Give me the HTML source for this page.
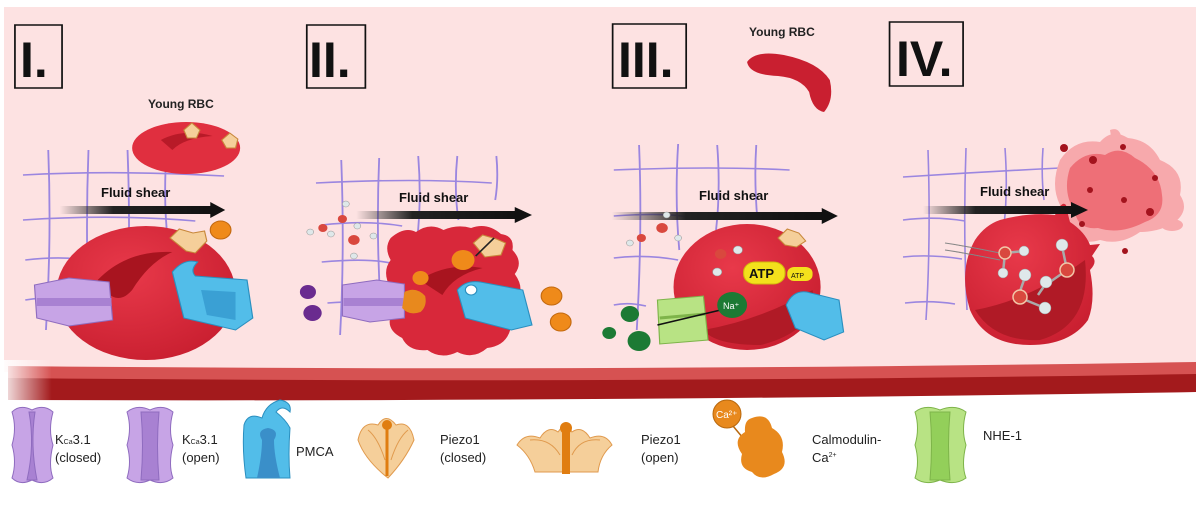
<!DOCTYPE html>
<html><head><meta charset="utf-8"><style>
html,body{margin:0;padding:0;background:#fff;width:1200px;height:510px;overflow:hidden}
svg{display:block}
text{font-family:"Liberation Sans",sans-serif}
</style></head><body>
<svg width="1200" height="510" viewBox="0 0 1200 510" xmlns="http://www.w3.org/2000/svg">
<defs>
<linearGradient id="arr" x1="0" x2="1" y1="0" y2="0"><stop offset="0" stop-color="#222" stop-opacity="0"/><stop offset="0.35" stop-color="#222"/><stop offset="1" stop-color="#111"/></linearGradient>
<linearGradient id="wall" x1="0" x2="1" y1="0" y2="0"><stop offset="0" stop-color="#fff" stop-opacity="0.9"/><stop offset="0.04" stop-color="#fff" stop-opacity="0"/></linearGradient>
<radialGradient id="rbc" cx="0.4" cy="0.35" r="0.7"><stop offset="0" stop-color="#e8394a"/><stop offset="1" stop-color="#c91f30"/></radialGradient>
</defs>
<rect x="4" y="7" width="1192" height="365" fill="#fde2e2"/>
<path d="M8 366 Q600 372 1196 362 L1196 392 Q600 398 8 398 Z" fill="#d65252"/>
<path d="M8 378 Q600 384 1196 374 L1196 392 Q600 402 8 400 Z" fill="#a31a1c"/>
<rect x="4" y="360" width="1192" height="45" fill="url(#wall)"/>

<!-- LEFT HALF (panels I, II) -->
<g transform="scale(1.149,1)">
<g fill="none" stroke="#111" stroke-width="1.5">
<rect x="13" y="25" width="41" height="63"/><rect x="267" y="25" width="51" height="63"/>
</g>
<g fill="none" stroke="#9b86e0" stroke-width="1.6">
<path d="M42 150 Q45 240 40 330 M77 150 Q74 240 78 330 M111 150 Q114 240 110 320 M145 150 Q142 200 146 240"/>
<path d="M20 175 Q100 170 195 176 M20 220 Q100 214 170 221 M22 260 Q60 255 80 262 M22 300 Q40 296 60 302"/>
<path d="M297 160 Q300 250 296 335 M330 158 Q327 240 332 320 M364 156 Q367 200 363 240 M398 156 Q395 190 399 220 M432 156 Q434 180 431 200"/>
<path d="M275 183 Q360 178 428 183 M280 225 Q320 220 350 226 M280 262 Q320 258 340 263 M285 303 Q320 300 340 304"/>
</g>
<ellipse cx="162" cy="148" rx="47" ry="26" fill="#e02f3f"/>
<path d="M140 140 Q160 128 185 136 Q160 138 150 150 Z" fill="#b81a28"/>
<path d="M160 130 l7 -7 l7 7 l-3 8 l-8 0 Z" fill="#f5cf9a" stroke="#c8873a"/>
<path d="M193 140 l7 -7 l7 6 l-2 9 l-8 0 Z" fill="#f5cf9a" stroke="#c8873a"/>
<rect x="52" y="206" width="133" height="8" fill="url(#arr)"/>
<path d="M183 202 L196 210 L183 218 Z" fill="#111"/>
<ellipse cx="127" cy="293" rx="78" ry="67" fill="url(#rbc)"/>
<path d="M85 280 Q110 250 150 252 Q130 262 115 290 Q100 310 85 280 Z" fill="#a8141f"/>
<path d="M148 238 l8 -9 l12 4 l10 -2 l2 10 l-10 12 l-8 -2 Z" fill="#f5cf9a" stroke="#c8873a"/>
<circle cx="192" cy="230" r="9" fill="#ef8a1a" stroke="#c46a10"/>
<path d="M30 285 L60 278 L95 282 L98 320 L60 326 L32 318 Z" fill="#c7a4e6" stroke="#8f6cbf"/>
<path d="M32 298 H97 V306 H32 Z" fill="#a881d2"/>
<path d="M150 272 Q160 258 172 262 Q165 270 170 276 L215 280 L220 318 L205 330 L160 318 Z" fill="#52bde9" stroke="#2b8fbf"/>
<path d="M175 290 L205 292 L205 320 L180 315 Z" fill="#3aa0d4"/>

<rect x="310" y="211" width="140" height="8" fill="url(#arr)"/><path d="M448 207 L463 215 L448 223 Z" fill="#111"/>
<path d="M340 238 Q352 226 362 232 Q374 222 386 230 Q398 224 410 228 Q424 222 436 234 Q448 236 446 250 Q456 262 448 274 Q458 290 448 302 Q452 318 444 330 Q440 346 424 348 Q412 360 398 352 Q384 360 372 350 Q356 352 350 338 Q336 330 340 316 Q330 300 340 288 Q332 272 340 260 Q334 248 340 238 Z" fill="#d8283a"/>
<path d="M365 280 Q390 262 420 268 Q395 275 385 295 Z" fill="#a8141f"/>
<circle cx="403" cy="260" r="10" fill="#ef8a1a"/><circle cx="366" cy="278" r="7" fill="#ef8a1a"/>
<path d="M412 243 l8 -8 l12 4 l8 4 l-4 12 l-14 2 Z" fill="#f5cf9a" stroke="#c8873a"/>
<path d="M430 238 L414 256" stroke="#222" stroke-width="1.5"/>
<path d="M298 285 L328 280 L352 284 L352 318 L322 322 L298 316 Z" fill="#c7a4e6" stroke="#8f6cbf"/>
<path d="M299 298 H351 V306 H299 Z" fill="#a881d2"/>
<path d="M352 292 q10 -6 18 4 q2 10 -4 16 q-10 4 -16 -4 Z" fill="#e8891d"/>
<path d="M398 290 Q405 280 418 282 L455 290 L463 325 L445 330 L405 318 Z" fill="#52bde9" stroke="#2b8fbf"/>
<circle cx="410" cy="290" r="5" fill="#fff" stroke="#2b8fbf"/>
<circle cx="268" cy="292" r="7" fill="#6a2b8f"/><circle cx="272" cy="313" r="8" fill="#6a2b8f"/>
<circle cx="480" cy="296" r="9" fill="#ef8a1a" stroke="#c46a10"/><circle cx="488" cy="322" r="9" fill="#ef8a1a" stroke="#c46a10"/>
<g fill="#d9483e"><circle cx="281" cy="228" r="4"/><circle cx="298" cy="219" r="4"/><circle cx="308" cy="240" r="5"/></g>
<g fill="#dfe8ea" stroke="#999" stroke-width="0.5"><circle cx="301" cy="204" r="3"/><circle cx="311" cy="226" r="3"/><circle cx="270" cy="232" r="3"/><circle cx="325" cy="236" r="3"/><circle cx="308" cy="256" r="3"/><circle cx="288" cy="234" r="3"/></g>
</g>

<!-- RIGHT HALF (panel III) -->
<g transform="translate(600,0) scale(1.149,1) translate(-600,0)">
<g fill="none" stroke="#111" stroke-width="1.5">
<rect x="611" y="24" width="64" height="64"/><rect x="852" y="22" width="64" height="64"/>
</g>
<g fill="none" stroke="#9b86e0" stroke-width="1.6">
<path d="M634 145 Q637 230 632 330 M668 144 Q665 200 669 250 M702 145 Q705 190 701 230 M736 145 Q734 180 737 220"/>
<path d="M612 170 Q700 166 765 170 M612 216 Q660 212 680 218 M612 258 Q640 254 668 260 M612 305 Q625 302 640 306"/>
</g>
<path d="M728 62 Q735 50 760 55 Q790 62 800 80 Q804 100 795 112 Q785 110 782 92 Q775 78 755 76 Q730 75 728 62 Z" fill="#c91f30"/>
<rect x="610" y="212" width="185" height="8" fill="url(#arr)"/><path d="M793 208 L807 216 L793 224 Z" fill="#111"/>
<ellipse cx="728" cy="287" rx="64" ry="63" fill="url(#rbc)"/>
<path d="M690 330 Q740 320 785 290 Q790 330 740 345 Q700 345 690 330 Z" fill="#b01a26"/>
<path d="M755 238 l8 -9 l10 4 l6 8 l-8 6 l-10 -2 Z" fill="#f5cf9a" stroke="#c8873a"/>
<rect x="725" y="262" width="36" height="22" rx="10" fill="#f3e11c" stroke="#d2b80c"/>
<rect x="763" y="267" width="22" height="14" rx="6" fill="#f3e11c"/>
<path d="M650 300 L690 296 L694 340 L652 344 Z" fill="#b8e384" stroke="#7eb44a"/>
<path d="M652 318 L692 314" stroke="#7eb44a" stroke-width="3"/>
<path d="M650 325 L705 310" stroke="#111" stroke-width="1.5"/>
<circle cx="715" cy="305" r="13" fill="#1c7a34"/>
<circle cx="626" cy="314" r="8" fill="#1c7a34"/><circle cx="608" cy="333" r="6" fill="#1c7a34"/><circle cx="634" cy="341" r="10" fill="#1c7a34"/>
<path d="M762 305 Q768 290 780 292 L808 300 L812 332 L795 340 L770 328 Z" fill="#52bde9" stroke="#2b8fbf"/>
<g fill="#d9483e"><circle cx="636" cy="238" r="4"/><circle cx="654" cy="228" r="5"/><circle cx="705" cy="254" r="5"/></g>
<g fill="#dfe8ea" stroke="#999" stroke-width="0.5"><circle cx="626" cy="243" r="3"/><circle cx="658" cy="215" r="3"/><circle cx="668" cy="238" r="3"/><circle cx="720" cy="250" r="4"/><circle cx="702" cy="272" r="4"/></g>
</g>

<!-- Panel IV (real coords) -->
<g fill="none" stroke="#9b86e0" stroke-width="1.6">
<path d="M928 150 Q931 240 926 320 M966 148 Q963 230 967 310 M1005 148 Q1008 190 1004 225 M1043 148 Q1041 175 1044 200"/>
<path d="M903 177 Q980 172 1060 168 M903 220 Q935 216 965 221 M903 257 Q930 254 962 259 M905 303 Q930 300 955 304"/>
</g>
<path d="M1060 160 Q1075 138 1100 142 Q1112 128 1128 138 Q1150 140 1160 160 Q1185 170 1180 195 Q1190 210 1175 222 Q1160 232 1140 232 Q1120 246 1100 240 Q1080 246 1072 232 Q1058 222 1060 205 Q1050 185 1060 160 Z" fill="#f7a9ac"/>
<path d="M1070 168 Q1085 150 1105 155 Q1120 145 1135 158 Q1160 170 1162 195 Q1165 215 1145 222 Q1120 235 1098 228 Q1078 230 1075 212 Q1062 192 1070 168 Z" fill="#ee6f77"/>
<path d="M1110 130 Q1120 126 1122 140 L1112 142 Z" fill="#f7a9ac"/>
<g fill="#a3131d"><circle cx="1064" cy="148" r="4"/><circle cx="1093" cy="160" r="4"/><circle cx="1090" cy="190" r="3"/><circle cx="1124" cy="200" r="3"/><circle cx="1150" cy="212" r="4"/><circle cx="1123" cy="147" r="3"/><circle cx="1082" cy="224" r="3"/><circle cx="1125" cy="251" r="3"/><circle cx="1155" cy="178" r="3"/></g>
<ellipse cx="1172" cy="225" rx="11" ry="6" fill="#f7a9ac"/>
<path d="M1000 220 Q1030 212 1055 215 Q1062 200 1066 205 Q1068 215 1070 222 Q1085 232 1090 245 L1100 244 L1092 256 Q1098 262 1090 270 Q1096 300 1088 320 Q1070 345 1030 345 Q985 345 970 310 Q958 270 975 240 Q985 225 1000 220 Z" fill="url(#rbc)"/>
<path d="M975 310 Q1030 300 1085 260 Q1092 325 1040 340 Q995 342 975 310 Z" fill="#b01a26"/>
<rect x="923" y="206" width="150" height="8" fill="url(#arr)"/><path d="M1071 202 L1088 210 L1071 218 Z" fill="#111"/>
<g stroke="#888" stroke-width="1"><path d="M945 243 Q960 245 1000 253 M945 250 Q960 252 1000 260"/></g>
<g stroke="#aaa" stroke-width="2.5"><path d="M1005 253 L1024 251 M1005 253 L1003 273 M1025 277 L1018 297 M1038 295 L1047 282 M1018 297 L1045 308 M1067 270 L1062 246 M1067 270 L1050 282"/></g>
<g fill="#d9483e" stroke="#f2c6a8" stroke-width="1.5"><circle cx="1005" cy="253" r="6"/><circle cx="1067" cy="270" r="7"/><circle cx="1020" cy="297" r="7"/></g>
<g fill="#dfe8ea" stroke="#999" stroke-width="0.5"><circle cx="1024" cy="251" r="5"/><circle cx="1003" cy="273" r="5"/><circle cx="1025" cy="275" r="6"/><circle cx="1062" cy="245" r="6"/><circle cx="1046" cy="282" r="6"/><circle cx="1045" cy="308" r="6"/></g>

<!-- panel texts -->
<g font-size="50" fill="#111" font-weight="bold">
<text x="20" y="77">I.</text><text x="309" y="77">II.</text>
<text x="618" y="77">III.</text><text x="896" y="76">IV.</text>
</g>
<g font-size="13" font-weight="bold" fill="#111">
<text x="101" y="197">Fluid shear</text><text x="399" y="202">Fluid shear</text>
<text x="699" y="200">Fluid shear</text><text x="980" y="196">Fluid shear</text>
</g>
<text x="148" y="108" font-size="12" font-weight="bold" fill="#222">Young RBC</text>
<text x="749" y="36" font-size="12" font-weight="bold" fill="#222">Young RBC</text>
<text x="749" y="278" font-size="13" font-weight="bold" fill="#111">ATP</text>
<text x="791" y="278" font-size="7" fill="#111">ATP</text>
<text x="723" y="309" font-size="9" fill="#fff">Na⁺</text>

<!-- Legend -->
<g stroke-width="1">
<path d="M12 412 Q20 404 32 410 Q44 404 53 412 Q48 430 53 445 Q48 465 53 478 Q44 486 32 480 Q20 486 12 478 Q17 462 12 445 Q17 428 12 412 Z" fill="#c7a4e6" stroke="#8f6cbf"/>
<path d="M29 412 Q35 445 27 480 H37 Q30 445 35 412 Z" fill="#a881d2" stroke="#8f6cbf"/>
<path d="M127 412 Q137 404 150 410 Q163 404 173 412 Q168 430 173 445 Q168 465 173 478 Q163 486 150 480 Q137 486 127 478 Q132 462 127 445 Q132 428 127 412 Z" fill="#c7a4e6" stroke="#8f6cbf"/>
<path d="M141 412 Q144 445 141 480 H159 Q156 445 159 412 Z" fill="#a881d2" stroke="#8f6cbf"/>
<path d="M244 425 Q248 412 262 418 Q266 404 280 400 Q292 402 290 412 Q282 404 276 412 Q286 420 290 428 Q288 455 290 478 L246 478 Q242 450 244 425 Z" fill="#52bde9" stroke="#2b8fbf"/>
<path d="M257 478 Q262 455 262 440 Q256 430 268 428 Q280 430 274 440 Q274 455 280 478 Z" fill="#3a8fc9"/>
<path d="M358 440 Q362 420 378 425 Q386 412 396 425 Q410 420 414 440 Q405 460 388 478 Q365 460 358 440 Z" fill="#f5cf9a" stroke="#e09a4e"/>
<path d="M368 430 Q378 438 385 460 M408 430 Q398 438 391 460" fill="none" stroke="#e09a4e"/>
<path d="M387 426 V476" stroke="#e07d10" stroke-width="3"/><circle cx="387" cy="425" r="5" fill="#e07d10"/>
<path d="M517 445 Q525 432 540 438 Q548 425 558 432 Q566 420 572 432 Q582 425 590 438 Q605 432 612 445 Q600 455 598 472 L535 472 Q530 455 517 445 Z" fill="#f5cf9a" stroke="#e09a4e"/>
<path d="M530 440 Q550 438 560 455 M600 440 Q580 438 572 455" fill="none" stroke="#e09a4e"/>
<rect x="562" y="428" width="8" height="46" fill="#e07d10"/><circle cx="566" cy="428" r="6" fill="#e07d10"/>
<circle cx="727" cy="414" r="14" fill="#e8891d" stroke="#b8680e"/>
<path d="M733 426 L748 444" stroke="#b8680e" stroke-width="1.5"/>
<path d="M752 418 Q768 412 772 428 Q786 436 782 452 Q790 468 774 474 Q760 482 752 472 Q738 468 742 454 Q732 440 745 432 Q744 420 752 418 Z" fill="#e8891d"/>
<path d="M915 412 Q925 404 940 410 Q955 404 966 412 Q961 430 966 445 Q961 465 966 478 Q955 486 940 480 Q925 486 915 478 Q920 462 915 445 Q920 428 915 412 Z" fill="#b8e384" stroke="#7eb44a"/>
<path d="M930 412 Q933 445 930 480 H950 Q947 445 950 412 Z" fill="#93cf5a" stroke="#7eb44a"/>
</g>
<g font-size="13" fill="#222">
<text x="55" y="444">K<tspan font-size="7">Ca</tspan>3.1</text><text x="55" y="462">(closed)</text>
<text x="182" y="444">K<tspan font-size="7">Ca</tspan>3.1</text><text x="182" y="462">(open)</text>
<text x="296" y="456">PMCA</text>
<text x="440" y="444">Piezo1</text><text x="440" y="462">(closed)</text>
<text x="641" y="444">Piezo1</text><text x="641" y="462">(open)</text>
<text x="812" y="444">Calmodulin-</text><text x="812" y="462">Ca<tspan font-size="7" dy="-5">2+</tspan></text>
<text x="983" y="440">NHE-1</text>
</g>
<text x="716" y="418" font-size="10" fill="#fff">Ca²⁺</text>
</svg>
</body></html>
